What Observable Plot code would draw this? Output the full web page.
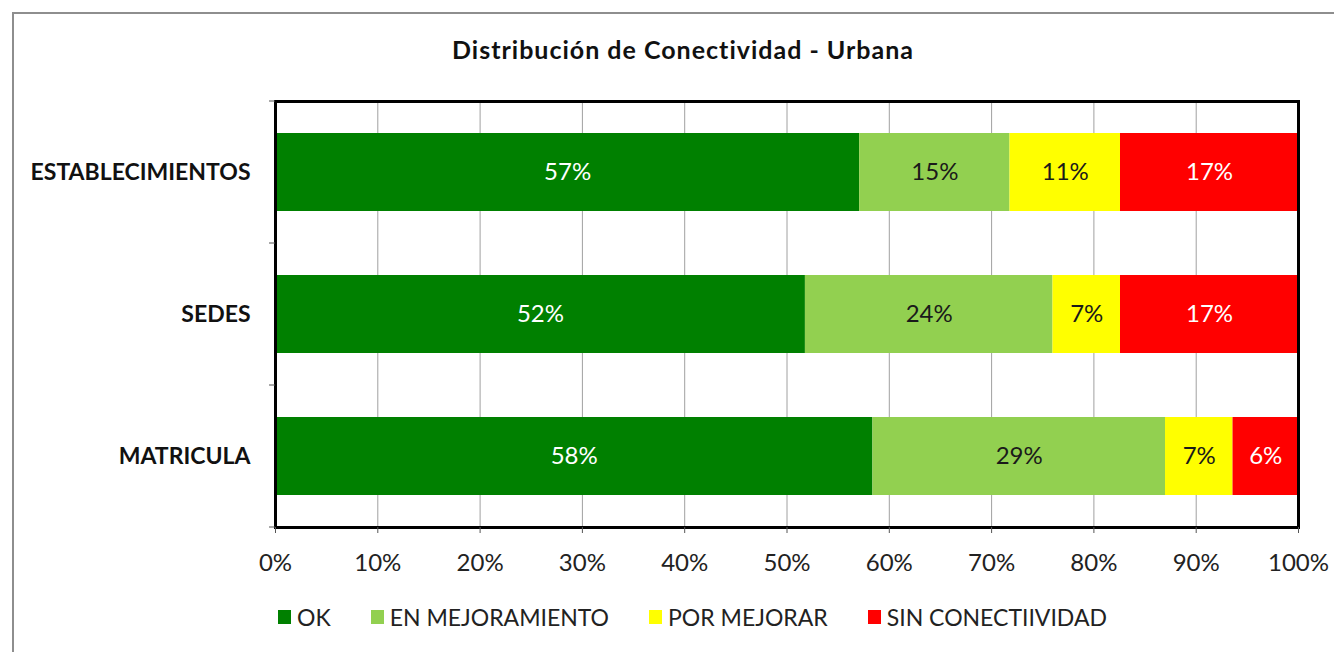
<!DOCTYPE html>
<html>
<head>
<meta charset="utf-8">
<script src="https://cdn.jsdelivr.net/npm/d3@7"></script>
<script src="https://cdn.jsdelivr.net/npm/@observablehq/plot@0.6"></script>
<style>
  html, body { margin: 0; padding: 0; background: #fff; width: 1334px; height: 652px; overflow: hidden; position: relative; font-family: Lato, "Open Sans", sans-serif; }
  #border { position: absolute; left: 12px; top: 12px; width: 1340px; height: 660px; border: 2px solid #8e8e8e; box-sizing: border-box; }
  #title { position: absolute; left: 0; width: 1366px; top: 34px; text-align: center; font-weight: bold; font-size: 25px; letter-spacing: 1px; color: #111; }
  #chart { position: absolute; left: 0; top: 80px; }
  #legend { position: absolute; left: 278px; top: 603px; display: flex; align-items: center; font-size: 23px; color: #222; }
  .item { display: flex; align-items: center; margin-right: 40px; }
  .sw { width: 13px; height: 14px; margin-right: 6px; }
</style>
</head>
<body>
<div id="border"></div>
<div id="title">Distribución de Conectividad - Urbana</div>
<div id="chart"></div>
<div id="legend"></div>
<script>
const categories = ["ESTABLECIMIENTOS", "SEDES", "MATRICULA"];
const statuses = ["OK", "EN MEJORAMIENTO", "POR MEJORAR", "SIN CONECTIIVIDAD"];
const colors = ["#008000", "#92d050", "#ffff00", "#ff0000"];
const labelColors = ["#ffffff", "#1a1a1a", "#1a1a1a", "#ffffff"];
const okValues = [0.571, 0.518, 0.584];
const enMejoramientoValues = [0.147, 0.242, 0.286];
const porMejorarValues = [0.108, 0.066, 0.066];
const sinConectividadValues = [0.174, 0.174, 0.064];
const xTicks = [0, 0.1, 0.2, 0.3, 0.4, 0.5, 0.6, 0.7, 0.8, 0.9, 1.0];

const series = [okValues, enMejoramientoValues, porMejorarValues, sinConectividadValues];
const data = [];
statuses.forEach((s, si) => {
  categories.forEach((c, ci) => {
    data.push({cat: c, status: s, value: series[si][ci], labelColor: labelColors[si]});
  });
});

const chart = Plot.plot({
  width: 1334,
  height: 500,
  marginTop: 21,
  marginBottom: 53,
  marginLeft: 275,
  marginRight: 36,
  style: {fontFamily: "Lato, 'Open Sans', sans-serif", fontSize: "24px", color: "#222", background: "transparent"},
  x: {domain: [0, 1], label: null},
  y: {domain: categories, label: null, paddingInner: 0.45, paddingOuter: 0.225},
  color: {domain: statuses, range: colors},
  marks: [
    Plot.gridX(xTicks, {stroke: "#a0a0a0", strokeOpacity: 1, strokeWidth: 1}),
    Plot.barX(data, Plot.stackX({x: "value", y: "cat", fill: "status", order: statuses})),
    Plot.text(data, Plot.stackX({x: "value", y: "cat", z: "status", order: statuses,
      text: d => Math.round(d.value * 100) + "%", fill: "labelColor", fontSize: 24})),
    Plot.frame({stroke: "#000", strokeWidth: 3}),
    Plot.axisX(xTicks, {tickFormat: d3.format(".0%"), tickSize: 6, tickPadding: 20, stroke: "#555", fontSize: 24, fill: "#222"}),
    Plot.axisY({tickSize: 0, tickPadding: 25, fontWeight: "bold", fontSize: 23, fill: "#111"})
  ]
});
document.getElementById("chart").appendChild(chart);

// small tick marks at band boundaries, positioned from the plot's own y scale
(() => {
  const y = chart.scale("y");
  const svg = d3.select(chart);
  const bw = y.bandwidth;
  const step = y.step;
  const g = svg.append("g");
  categories.forEach((c, i) => {
    const t = y.apply(c) + bw / 2 - step / 2;
    g.append("line").attr("x1", 269).attr("x2", 275).attr("y1", t).attr("y2", t).attr("stroke", "#555");
    if (i === categories.length - 1) {
      g.append("line").attr("x1", 269).attr("x2", 275).attr("y1", t + step).attr("y2", t + step).attr("stroke", "#555");
    }
  });
})();

const legend = document.getElementById("legend");
statuses.forEach((s, i) => {
  const item = document.createElement("div");
  item.className = "item";
  const sw = document.createElement("div");
  sw.className = "sw";
  sw.style.background = colors[i];
  const t = document.createElement("span");
  t.textContent = s;
  item.appendChild(sw);
  item.appendChild(t);
  legend.appendChild(item);
});
</script>
</body>
</html>
